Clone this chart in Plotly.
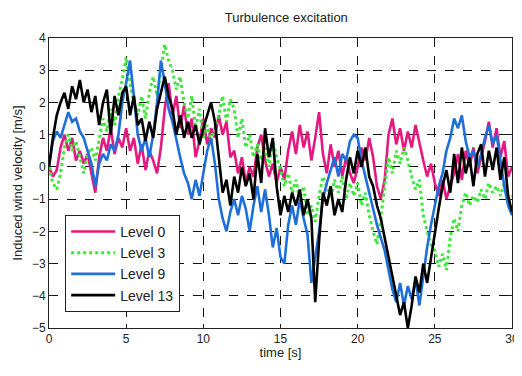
import numpy as np
import plotly.graph_objects as go

# time base: 0 .. 30 s, step 0.25 s
time_s = [i * 0.25 for i in range(121)]

level_0 = [
    0.0, -0.3, -0.1, 0.6,   1.0, 0.5, 0.9, 0.2,   0.5, 0.1, 0.4, -0.2,
    -0.8, 0.3, 0.9, 0.5,    1.2, 0.4, 0.9, 0.6,   1.2, 0.5, 0.9, 0.1,
    0.7, -0.1, 0.5, 0.2,    -0.2, 0.6, 1.8, 2.6,  1.6, 2.2, 1.2, 1.9,
    1.0, 1.5, 0.3, 0.8,     1.5, 0.7, 1.2, 0.9,   1.6, 1.0, 1.4, 0.3,
    0.5, -0.2, 0.3, -0.5,   0.0, -0.3, 0.6, 1.0,  0.2, -0.3, 0.1, -0.5,
    0.0, -0.4, 0.5, 1.1,    0.4, 1.3, 0.6, 1.1,   0.2, 0.9, 1.7, 0.4,
    -0.2, 0.7, 0.0, 0.5,    -0.3, 0.3, -0.2, -0.5, 0.0, 0.6, 0.2, 0.9,
    0.3, -0.6, -1.0, -0.4,  1.0, 1.5, 0.7, 1.2,   0.5, 1.1, 0.6, 1.3,
    0.7, 0.2, -0.3, 0.1,    -0.5, -0.9, -0.4, -1.0, -0.6, -0.2, 0.4, -0.4,
    0.5, 0.0, 0.6, -0.2,    0.3, 0.8, 1.4, 0.6,   1.2, 0.3, 0.8, -0.3,
    0.0,
]

level_3 = [
    0.0, -0.5, -0.7, -0.2,  0.6, 1.0, 0.5, 0.8,   0.3, -0.2, 0.4, 0.6,
    0.2, 0.9, 1.5, 1.1,     1.8, 1.3, 2.2, 2.7,   3.4, 2.6, 2.0, 1.6,
    2.2, 1.5, 2.3, 2.8,     2.2, 3.0, 3.8, 3.3,   3.0, 2.4, 2.8, 2.0,
    1.5, 2.2, 1.2, 1.8,     0.9, 1.3, 0.8, 1.2,   1.6, 2.2, 1.4, 2.1,
    1.8, 0.9, 1.5, 0.6,     1.0, 0.3, 0.7, 0.2,   0.6, 0.0, 0.8, 0.3,
    -0.1, -0.6, -0.2, -0.8, -0.4, -1.0, -0.6, -1.5, -1.2, -1.7, -0.9, -0.3,
    -0.6, -1.0, -0.4, -0.8, -0.3, -1.0, -0.5, -0.9, -0.5, -1.2, -0.8, -1.5,
    -2.0, -2.4, -1.6, -0.6, 0.3, -0.2, 0.5, 0.1,  0.6, 0.2, -0.3, -0.7,
    -0.4, -1.5, -2.0, -2.4, -2.6, -3.1, -2.7, -3.2, -2.2, -1.6, -2.0, -1.2,
    -0.8, -1.2, -0.9, -1.1, -0.7, -1.0, -0.5, -0.8, -0.6, -0.9, -0.5, -1.0,
    -0.9,
]

level_9 = [
    0.0, 0.8, 1.1, 0.9,     1.3, 1.7, 1.4, 1.5,   1.1, 0.9, 0.5, 0.1,
    -0.6, 0.1, 0.4, 0.2,    0.7, 0.5, 1.0, 2.0,   2.6, 3.3, 2.2, 1.0,
    0.5, 0.9, 0.3, 1.0,     2.0, 3.3, 2.6, 1.8,   1.4, 0.8, 0.3, -0.2,
    -0.5, -1.0, -0.4, -0.9, -0.2, 0.5, 0.9, 0.1,  -1.0, -1.6, -2.0, -1.4,
    -1.0, -1.5, -0.9, -1.3, -2.0, -1.2, -0.6, -1.4, -0.7, -1.5, -2.5, -1.9,
    -2.8, -3.0, -1.8, -1.2, -1.8, -1.0, -1.6, -2.1, -3.6, -2.8, -2.0, -1.0,
    -0.5, -0.1, 0.3, -0.3,  0.4, 0.2, 0.8, 1.0,   0.9, 0.2, -0.3, -0.8,
    -1.3, -1.8, -2.2, -2.6, -3.2, -3.8, -4.2, -3.6, -4.3, -3.7, -4.1, -3.5,
    -4.3, -3.4, -2.5, -1.8, -1.2, -0.6, -0.2, 0.5, 0.9, 1.5, 1.2, 1.6,
    0.8, 0.3, 0.5, 0.0,     0.4, 0.9, 1.3, 0.7,   1.0, 0.2, -0.6, -1.2,
    -1.5,
]

level_13 = [
    0.0, 0.9, 1.6, 2.0,     2.3, 1.8, 2.5, 2.1,   2.7, 2.0, 2.4, 1.7,
    2.2, 1.3, 2.0, 2.4,     1.0, 2.2, 1.6, 2.3,   2.5, 1.6, 2.2, 1.3,
    1.5, 0.8, 1.4, 0.9,     1.8, 2.3, 2.8, 2.2,   1.8, 1.0, 1.6, 0.9,
    1.4, 0.9, 1.3, 0.7,     1.2, 1.6, 2.0, 1.4,   0.2, -0.8, -0.4, -1.2,
    -0.3, -0.8, 0.0, -0.6,  -0.2, -1.0, 0.4, -0.5, 1.2, 0.3, 0.9, -0.6,
    -1.5, -0.9, -1.4, -0.8, -1.2, -0.7, -1.5, -1.0, -1.6, -4.2, -2.3, -0.8,
    -1.2, -0.6, -1.5, -1.0, -1.4, -0.4, 0.3, -0.2, 0.5, 0.0, 0.6, -0.3,
    -0.6, -1.2, -1.6, -2.2, -2.8, -3.5, -4.0, -4.6, -4.2, -5.0, -4.3, -3.4,
    -3.9, -3.0, -3.6, -2.8, -2.0, -1.3, -0.6, -0.1, -0.8, 0.4, -0.5, 0.6,
    -0.2, 0.3, -0.6, 0.4,   0.7, -0.3, 0.5, -0.1, 0.6, -0.4, 0.3, -0.9,
    -1.4,
]

series_names = ["Level 0", "Level 3", "Level 9", "Level 13"]
series_values = [level_0, level_3, level_9, level_13]
series_colors = ["#E3197F", "#3EE83A", "#1E6FD9", "#000000"]
series_dash = ["solid", "dot", "solid", "solid"]

x_ticks = [0, 5, 10, 15, 20, 25, 30]
y_ticks = [-5, -4, -3, -2, -1, 0, 1, 2, 3, 4]

fig = go.Figure()
for name, vals, col, dash in zip(series_names, series_values, series_colors, series_dash):
    fig.add_trace(go.Scatter(
        x=time_s, y=vals, mode="lines", name=name,
        line=dict(color=col, width=2.6 if dash == "solid" else 3, dash=dash),
    ))

font_family = "Arial, Liberation Sans, sans-serif"
axis_common = dict(
    showline=True, linecolor="#222", linewidth=1, mirror="allticks",
    ticks="inside", ticklen=4, tickcolor="#222",
    showgrid=True, gridcolor="#111", gridwidth=1, griddash="dash",
    zeroline=False, automargin=False, ticklabeloverflow="allow",
    tickfont=dict(size=12, color="#222", family=font_family),
)

# the page body adds an 8 px offset, so the figure is sized/positioned to compensate
fig.update_layout(
    width=506, height=352,
    margin=dict(l=41, r=2, t=30, b=32, autoexpand=False),
    paper_bgcolor="white", plot_bgcolor="white",
    font=dict(family=font_family, color="#222", size=12),
    title=dict(text="Turbulence excitation", x=0.55, xanchor="center",
               y=0.985, yanchor="top", font=dict(size=13)),
    xaxis=dict(range=[0, 30], tickvals=x_ticks,
               title=dict(text="time [s]", font=dict(size=13), standoff=2),
               **axis_common),
    yaxis=dict(range=[-5, 4], tickvals=y_ticks,
               title=dict(text="Induced wind velocity [m/s]", font=dict(size=13), standoff=6),
               **axis_common),
    legend=dict(x=0.035, y=0.39, xanchor="left", yanchor="top",
                bgcolor="white", bordercolor="#222", borderwidth=1,
                font=dict(size=14), tracegroupgap=0,
                itemwidth=44),
    showlegend=True,
)

fig.write_html("out.html")
